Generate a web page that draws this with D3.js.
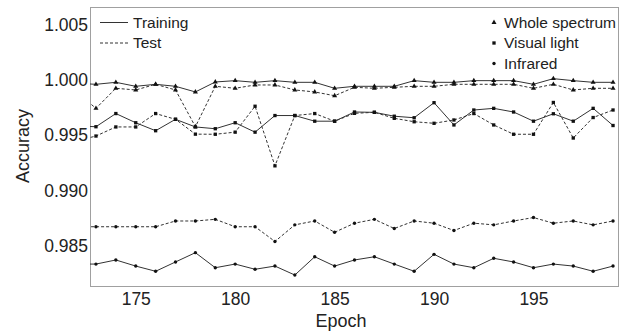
<!DOCTYPE html>
<html>
<head>
<meta charset="utf-8">
<script src="https://cdn.jsdelivr.net/npm/d3@7"></script>
<style>
  body { margin: 0; background: #fff; }
  svg { display: block; font-family: "Liberation Sans", Arial, sans-serif; }
</style>
</head>
<body>
<div id="chart"></div>
<script>
// epochs (172 sits just left of the axis and gets clipped)
const epochs = d3.range(172, 200);

// Whole spectrum (triangles)
const wholeTrain = [0.9997, 0.99961, 0.99979, 0.99943, 0.99961, 0.99943, 0.99892, 0.99982, 0.99994, 0.99979,
  0.99994, 0.99979, 0.99979, 0.99925, 0.99943, 0.99943, 0.99943, 0.99994, 0.99979, 0.99979,
  0.99994, 0.99994, 0.99994, 0.99961, 1.00012, 0.99994, 0.99979, 0.99979];
const wholeTest = [0.99894, 0.99744, 0.99925, 0.9991, 0.99961, 0.9991, 0.99578, 0.99943, 0.99925, 0.99955,
  0.99955, 0.9991, 0.99892, 0.99858, 0.99934, 0.99925, 0.99934, 0.99943, 0.99943, 0.99961,
  0.99961, 0.99961, 0.99961, 0.99925, 0.99961, 0.9991, 0.99925, 0.99925];

// Visual light (squares)
const visualTrain = [0.99585, 0.99578, 0.99697, 0.99614, 0.99542, 0.99645, 0.99576, 0.9956, 0.99614, 0.99529,
  0.99679, 0.99679, 0.99628, 0.99628, 0.99711, 0.99708, 0.99673, 0.99659, 0.99795, 0.99594,
  0.99729, 0.99744, 0.99711, 0.99628, 0.99695, 0.99628, 0.99744, 0.99589];
const visualTest = [0.99449, 0.99494, 0.99576, 0.99576, 0.99697, 0.99645, 0.99511, 0.9951, 0.99529, 0.99763,
  0.99225, 0.99679, 0.99697, 0.99628, 0.99699, 0.99708, 0.99654, 0.99623, 0.99609, 0.99639,
  0.99697, 0.99594, 0.9951, 0.9951, 0.99797, 0.99476, 0.99661, 0.99729];

// Infrared (dots)
const infraTrain = [0.98338, 0.98338, 0.98375, 0.9832, 0.98273, 0.98357, 0.98441, 0.98305, 0.98338, 0.98291,
  0.9832, 0.98239, 0.98404, 0.9832, 0.98375, 0.98404, 0.98338, 0.98273, 0.98426, 0.98338,
  0.98305, 0.9839, 0.98357, 0.98305, 0.98338, 0.9832, 0.98273, 0.9832];
const infraTest = [0.98675, 0.98675, 0.98675, 0.98675, 0.98675, 0.98727, 0.98727, 0.98742, 0.98675, 0.98675,
  0.98542, 0.98692, 0.98727, 0.98625, 0.98707, 0.98742, 0.98659, 0.98727, 0.98707, 0.98641,
  0.98707, 0.98692, 0.98727, 0.98758, 0.98707, 0.98727, 0.98692, 0.98727];

const xTicks = [175, 180, 185, 190, 195];
const yTicks = [0.985, 0.990, 0.995, 1.000, 1.005];

const series = [
  { values: wholeTrain, marker: 'triangle', dashed: false },
  { values: wholeTest, marker: 'triangle', dashed: true },
  { values: visualTrain, marker: 'square', dashed: false },
  { values: visualTest, marker: 'square', dashed: true },
  { values: infraTrain, marker: 'circle', dashed: false },
  { values: infraTest, marker: 'circle', dashed: true },
];

const width = 627;
const height = 333;
const ink = '#222';

const symbols = {
  triangle: d3.symbol(d3.symbolTriangle).size(11),
  square: d3.symbol(d3.symbolSquare).size(11),
  circle: d3.symbol(d3.symbolCircle).size(9),
};

function drawChart() {
  const area = { left: 90, right: 618, top: 7, bottom: 286 };

  const svg = d3.select('#chart').append('svg')
    .attr('width', width)
    .attr('height', height);

  const xScale = d3.scaleLinear()
    .domain([172.7, 199.25])
    .range([area.left, area.right]);

  const yScale = d3.scaleLinear()
    .domain([0.9814, 1.00659])
    .range([area.bottom, area.top]);

  svg.append('clipPath').attr('id', 'plot-clip')
    .append('rect')
    .attr('x', area.left).attr('y', area.top)
    .attr('width', area.right - area.left)
    .attr('height', area.bottom - area.top);

  // frame
  svg.append('rect')
    .attr('x', area.left + 0.5).attr('y', area.top + 0.5)
    .attr('width', area.right - area.left)
    .attr('height', area.bottom - area.top)
    .attr('fill', 'none')
    .attr('stroke', '#a0a0a0');

  // axes: labels only, no tick marks
  const xAxis = svg.append('g')
    .attr('transform', `translate(0, ${area.bottom})`)
    .call(d3.axisBottom(xScale).tickValues(xTicks).tickSize(0).tickPadding(7));
  const yAxis = svg.append('g')
    .attr('transform', `translate(${area.left}, 0)`)
    .call(d3.axisLeft(yScale).tickValues(yTicks).tickFormat(d3.format('.3f')).tickSize(0).tickPadding(2));

  [xAxis, yAxis].forEach((g) => {
    g.select('.domain').remove();
    g.selectAll('text')
      .attr('fill', ink)
      .style('font-size', '17.5px')
      .style('font-family', '"Liberation Sans", Arial, sans-serif');
  });

  // axis titles
  svg.append('text')
    .attr('x', 341).attr('y', 327)
    .attr('text-anchor', 'middle')
    .attr('fill', ink)
    .style('font-size', '18px')
    .text('Epoch');

  svg.append('text')
    .attr('transform', 'translate(29, 146) rotate(-90)')
    .attr('text-anchor', 'middle')
    .attr('fill', ink)
    .style('font-size', '18px')
    .text('Accuracy');

  // lines + markers
  const plot = svg.append('g').attr('clip-path', 'url(#plot-clip)');

  const line = d3.line()
    .x((d, i) => xScale(epochs[i]))
    .y((d) => yScale(d));

  series.forEach((s) => {
    plot.append('path')
      .attr('d', line(s.values))
      .attr('fill', 'none')
      .attr('stroke', '#333')
      .attr('stroke-width', 1)
      .attr('stroke-dasharray', s.dashed ? '3,2' : null);

    plot.append('g')
      .selectAll('path')
      .data(s.values)
      .join('path')
      .attr('d', symbols[s.marker])
      .attr('transform', (d, i) => `translate(${xScale(epochs[i])}, ${yScale(d)})`)
      .attr('fill', '#111');
  });

  // legend: line styles (left)
  const styleLegend = svg.append('g').style('font-size', '15.5px');
  [['Training', false], ['Test', true]].forEach(([label, dashed], i) => {
    const y = 22.5 + i * 20.5;
    styleLegend.append('line')
      .attr('x1', 100).attr('x2', 128)
      .attr('y1', y).attr('y2', y)
      .attr('stroke', '#333')
      .attr('stroke-dasharray', dashed ? '3,2' : null);
    styleLegend.append('text')
      .attr('x', 133).attr('y', y)
      .attr('dy', '0.35em')
      .attr('fill', ink)
      .text(label);
  });

  // legend: markers (right)
  const markerLegend = svg.append('g').style('font-size', '15.5px');
  [['Whole spectrum', 'triangle'], ['Visual light', 'square'], ['Infrared', 'circle']].forEach(([label, m], i) => {
    const y = 22.5 + i * 20.5;
    markerLegend.append('path')
      .attr('d', symbols[m])
      .attr('transform', `translate(494, ${y})`)
      .attr('fill', '#111');
    markerLegend.append('text')
      .attr('x', 504).attr('y', y)
      .attr('dy', '0.35em')
      .attr('fill', ink)
      .text(label);
  });
}

drawChart();
</script>
</body>
</html>
